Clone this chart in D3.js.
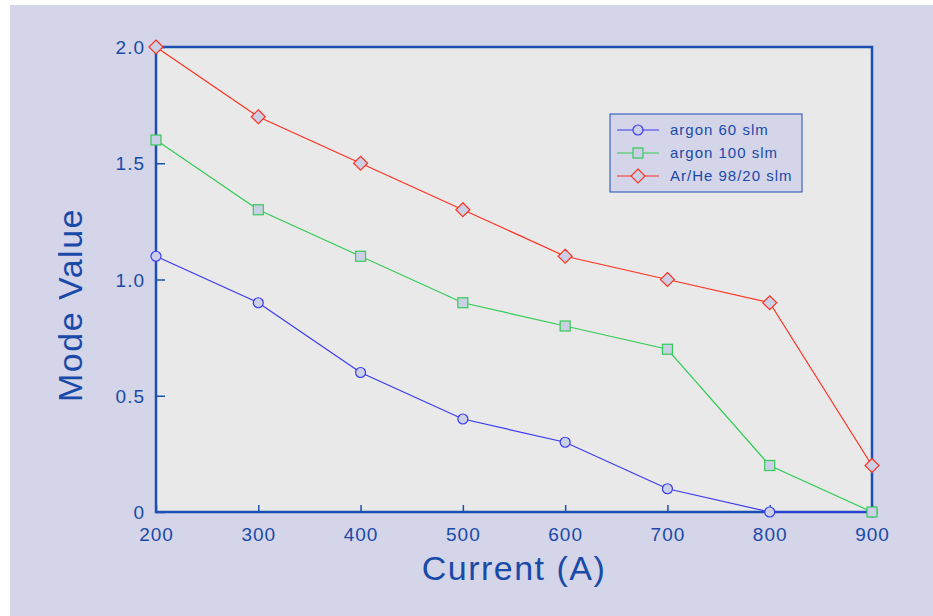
<!DOCTYPE html>
<html><head><meta charset="utf-8">
<script src="https://cdn.jsdelivr.net/npm/d3@7"></script>
<style>body{margin:0;background:#fff;}svg{display:block;}</style>
</head><body>
<svg id="c" width="933" height="616"></svg>
<script>
const currents = [200, 300, 400, 500, 600, 700, 800, 900];
const argon60 = [1.1, 0.9, 0.6, 0.4, 0.3, 0.1, 0, 0];
const argon100 = [1.6, 1.3, 1.1, 0.9, 0.8, 0.7, 0.2, 0];
const arHe = [2.0, 1.7, 1.5, 1.3, 1.1, 1.0, 0.9, 0.2];
const seriesNames = ["argon 60 slm", "argon 100 slm", "Ar/He 98/20 slm"];
const yTicks = [0, 0.5, 1.0, 1.5, 2.0];
const yTickLabels = ["0", "0.5", "1.0", "1.5", "2.0"];
const xTicks = [200, 300, 400, 500, 600, 700, 800, 900];

const svg = d3.select("#c");
const blue = "#1b4fb4";
const txt = "#1a4aa8";
const font = "Liberation Sans, Arial, sans-serif";
svg.append("rect").attr("x",10).attr("y",5).attr("width",923).attr("height",611).attr("fill","#d4d5e8");

const L=156, R=872, T=47, B=512;
const x = d3.scaleLinear().domain([200,900]).range([L,R]);
const y = d3.scaleLinear().domain([0,2]).range([B,T]);

svg.append("rect").attr("x",L).attr("y",T).attr("width",R-L).attr("height",B-T).attr("fill","#e9e9e9");

const gx = svg.append("g").attr("transform",`translate(0,${B})`)
  .call(d3.axisBottom(x).tickValues(xTicks).tickSize(-7).tickPadding(16).tickFormat(d3.format("d")));
const gy = svg.append("g").attr("transform",`translate(${L},0)`)
  .call(d3.axisLeft(y).tickValues(yTicks).tickSize(-9).tickPadding(11).tickFormat((d,i)=>yTickLabels[i]));
[gx,gy].forEach(g=>{
  g.select(".domain").remove();
  g.selectAll("line").attr("stroke",blue).attr("stroke-width",1.5);
  g.selectAll("text").attr("fill",txt).attr("font-family",font).attr("font-size",19).attr("letter-spacing","1px");
});
gy.selectAll("text").attr("dy","0.35em");

svg.append("rect").attr("x",L).attr("y",T).attr("width",R-L).attr("height",B-T)
  .attr("fill","none").attr("stroke",blue).attr("stroke-width",2.5);

const series = [
  {name:seriesNames[0], vals:argon60, color:"#3a3af0", shape:"circle"},
  {name:seriesNames[1], vals:argon100, color:"#33cc55", shape:"square"},
  {name:seriesNames[2], vals:arHe, color:"#ff3322", shape:"diamond"}
];
const mfill = "#ccd0e6";
function marker(g, shape, cx, cy, color){
  if(shape==="circle") g.append("circle").attr("cx",cx).attr("cy",cy).attr("r",5).attr("fill",mfill).attr("stroke",color).attr("stroke-width",1.2);
  else if(shape==="square") g.append("rect").attr("x",cx-5).attr("y",cy-5).attr("width",10).attr("height",10).attr("fill",mfill).attr("stroke",color).attr("stroke-width",1.2);
  else g.append("path").attr("d",`M${cx},${cy-7}L${cx+7},${cy}L${cx},${cy+7}L${cx-7},${cy}Z`).attr("fill",mfill).attr("stroke",color).attr("stroke-width",1.2);
}
const line = d3.line().x(d=>x(d[0])).y(d=>y(d[1]));
series.forEach(s=>{
  const pts = currents.map((c,i)=>[c,s.vals[i]]);
  svg.append("path").attr("d",line(pts)).attr("fill","none").attr("stroke",s.color).attr("stroke-width",1.2);
});
series.forEach(s=>{
  const g = svg.append("g");
  currents.forEach((c,i)=>marker(g,s.shape,x(c),y(s.vals[i]),s.color));
});

const lg = svg.append("g");
lg.append("rect").attr("x",610).attr("y",114).attr("width",192).attr("height",78).attr("fill","#d4d5e8").attr("stroke",blue).attr("stroke-width",1);
series.forEach((s,i)=>{
  const yy = 130 + i*23;
  lg.append("line").attr("x1",617).attr("x2",659).attr("y1",yy).attr("y2",yy).attr("stroke",s.color).attr("stroke-width",1.2);
  marker(lg,s.shape,638,yy,s.color);
  lg.append("text").attr("x",670).attr("y",yy+5).text(s.name).attr("fill",txt).attr("font-family",font).attr("font-size",15).attr("letter-spacing","1px");
});

svg.append("text").attr("x",514).attr("y",580).attr("text-anchor","middle").text("Current (A)")
  .attr("fill",txt).attr("font-family",font).attr("font-size",34).attr("letter-spacing","1.5px");
svg.append("text").attr("transform","translate(82,305) rotate(-90)").attr("text-anchor","middle").text("Mode Value")
  .attr("fill",txt).attr("font-family",font).attr("font-size",34).attr("letter-spacing","1.5px");
</script>
</body></html>
